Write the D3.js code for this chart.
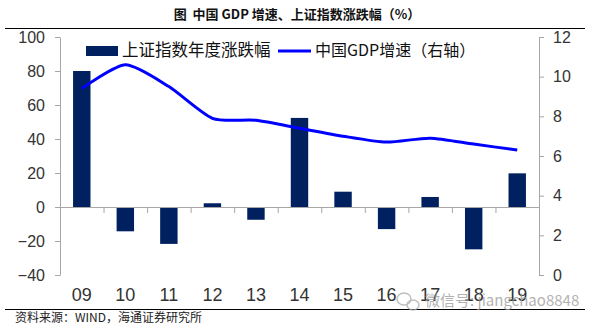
<!DOCTYPE html>
<html>
<head>
<meta charset="utf-8">
<script src="https://cdn.jsdelivr.net/npm/d3@7"></script>
<style>
  body { margin: 0; background: #fff; }
  svg text { font-family: "Liberation Sans", Arial, sans-serif; }
  .cn { font-family: "Noto Sans CJK SC", sans-serif; }
  .axis path, .axis line { stroke: #a6a6a6; }
  .axis text { fill: #333; }
</style>
</head>
<body>
<div class="chart"></div>
<script>
// data
const years = ['09', '10', '11', '12', '13', '14', '15', '16', '17', '18', '19'];
const indexChange = [80, -14.3, -21.7, 2.2, -7.5, 52.4, 9, -13, 5.9, -24.9, 19.8];
const gdpGrowth = [9.4, 10.6, 9.5, 7.9, 7.8, 7.4, 7.0, 6.7, 6.9, 6.6, 6.3];
const leftTicks = [-40, -20, 0, 20, 40, 60, 80, 100];
const rightTicks = [0, 2, 4, 6, 8, 10, 12];

const width = 593;
const height = 328;
const plotLeft = 60, plotRight = 539, plotTop = 37, plotBottom = 275;

let svg = d3.select('.chart').append('svg')
  .attr('width', width)
  .attr('height', height);

// title + rules
svg.append('text')
  .attr('class', 'cn')
  .attr('x', 297)
  .attr('y', 15)
  .attr('dominant-baseline', 'middle')
  .style('text-anchor', 'middle')
  .style('font-size', '13px')
  .style('font-weight', 'bold')
  .attr('fill', '#111')
  .text('图\u00a0\u00a0中国 GDP 增速、上证指数涨跌幅（%）');
svg.append('line')
  .attr('x1', 5).attr('x2', 585).attr('y1', 28.5).attr('y2', 28.5)
  .attr('stroke', '#000').attr('stroke-width', 1.2);
svg.append('line')
  .attr('x1', 5).attr('x2', 585).attr('y1', 309.5).attr('y2', 309.5)
  .attr('stroke', '#000').attr('stroke-width', 1.2);

// scales
const x = d3.scaleBand()
  .domain(years)
  .range([plotLeft, plotRight])
  .paddingInner(0.6)
  .paddingOuter(0.3);
const yLeft = d3.scaleLinear().domain([-40, 100]).range([plotBottom, plotTop]);
const yRight = d3.scaleLinear().domain([0, 12]).range([plotBottom, plotTop]);
const xIdx = d3.scaleLinear().domain([0, years.length]).range([plotLeft, plotRight]);

// left axis
let leftAxis = svg.append('g')
  .attr('class', 'axis')
  .attr('transform', `translate(${plotLeft},0)`)
  .call(d3.axisLeft(yLeft).tickValues(leftTicks).tickSize(5).tickSizeOuter(0).tickPadding(10));
leftAxis.selectAll('text').style('font-size', '16px');

// right axis
let rightAxis = svg.append('g')
  .attr('class', 'axis')
  .attr('transform', `translate(${plotRight},0)`)
  .call(d3.axisRight(yRight).tickValues(rightTicks).tickSize(5).tickSizeOuter(0).tickPadding(9));
rightAxis.selectAll('text').style('font-size', '16px');

// bars
svg.append('g')
  .selectAll('rect')
  .data(years)
  .enter()
  .append('rect')
    .attr('x', (d) => x(d))
    .attr('width', x.bandwidth())
    .attr('y', (d, i) => yLeft(Math.max(0, indexChange[i])))
    .attr('height', (d, i) => Math.abs(yLeft(indexChange[i]) - yLeft(0)))
    .attr('fill', '#002060');

// zero line with category separators
let zeroAxis = svg.append('g')
  .attr('class', 'axis')
  .attr('transform', `translate(0,${yLeft(0)})`)
  .call(d3.axisBottom(xIdx).tickValues(d3.range(1, years.length)).tickSize(6).tickSizeOuter(0).tickFormat(''));

// category labels
let catAxis = svg.append('g')
  .attr('class', 'axis')
  .attr('transform', `translate(0,${plotBottom})`)
  .call(d3.axisBottom(x).tickSize(0).tickPadding(13));
catAxis.select('.domain').remove();
catAxis.selectAll('text').style('font-size', '18px');

// GDP line (right axis)
const line = d3.line()
  .x((d, i) => x(years[i]) + x.bandwidth() / 2)
  .y((d) => yRight(d))
  .curve(d3.curveCardinal.tension(0.3));
svg.append('path')
  .datum(gdpGrowth)
  .attr('d', line)
  .attr('fill', 'none')
  .attr('stroke', '#0000ff')
  .attr('stroke-width', 3);

// legend
svg.append('rect')
  .attr('x', 86).attr('y', 46).attr('width', 32).attr('height', 10)
  .attr('fill', '#002060');
svg.append('text')
  .attr('class', 'cn')
  .attr('x', 122).attr('y', 52)
  .attr('dominant-baseline', 'middle')
  .style('font-size', '16.5px')
  .attr('fill', '#111')
  .text('上证指数年度涨跌幅');
svg.append('line')
  .attr('x1', 278).attr('x2', 311).attr('y1', 51).attr('y2', 51)
  .attr('stroke', '#0000ff').attr('stroke-width', 3);
svg.append('text')
  .attr('class', 'cn')
  .attr('x', 315).attr('y', 52)
  .attr('dominant-baseline', 'middle')
  .style('font-size', '16px')
  .attr('fill', '#111')
  .text('中国GDP增速（右轴）');

// source
svg.append('text')
  .attr('class', 'cn')
  .attr('x', 15).attr('y', 319)
  .attr('dominant-baseline', 'middle')
  .style('font-size', '12px')
  .attr('fill', '#222')
  .text('资料来源：WIND，海通证券研究所');

// watermark
let wm = svg.append('g').attr('opacity', 0.75);
wm.append('ellipse').attr('cx', 404).attr('cy', 299).attr('rx', 7).attr('ry', 6)
  .attr('fill', 'none').attr('stroke', '#aaa').attr('stroke-width', 1.5);
wm.append('ellipse').attr('cx', 413).attr('cy', 305).attr('rx', 6).attr('ry', 5)
  .attr('fill', 'none').attr('stroke', '#aaa').attr('stroke-width', 1.5);
wm.append('text')
  .attr('class', 'cn')
  .attr('x', 425).attr('y', 302)
  .attr('dominant-baseline', 'middle')
  .style('font-size', '15px')
  .attr('fill', '#999')
  .text('微信号: jiangchao8848');
</script>
</body>
</html>
